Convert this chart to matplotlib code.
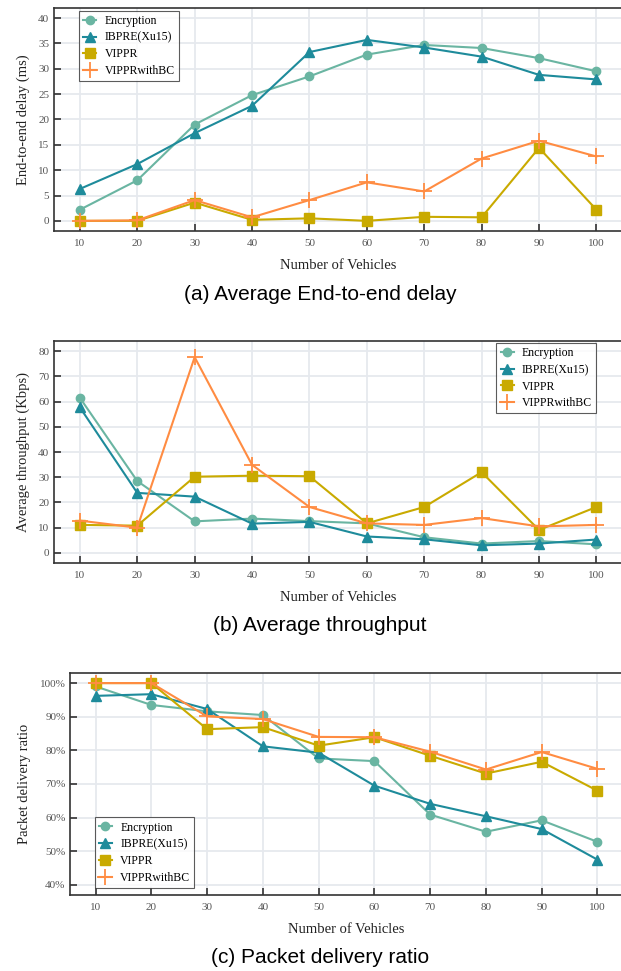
import matplotlib
matplotlib.use("Agg")
import matplotlib.pyplot as plt
from matplotlib.ticker import FuncFormatter

vehicles = [10, 20, 30, 40, 50, 60, 70, 80, 90, 100]
names = ["Encryption", "IBPRE(Xu15)", "VIPPR", "VIPPRwithBC"]

# (a) end-to-end delay, ms
delay_enc = [2.2, 8.0, 19.0, 24.8, 28.5, 32.8, 34.7, 34.1, 32.1, 29.5]
delay_ibpre = [6.3, 11.2, 17.3, 22.7, 33.3, 35.7, 34.2, 32.4, 28.8, 27.9]
delay_vippr = [0.0, 0.0, 3.6, 0.2, 0.5, 0.0, 0.8, 0.7, 14.4, 2.2]
delay_bc = [0.0, 0.1, 4.1, 0.7, 4.1, 7.6, 5.8, 12.3, 15.8, 12.7]

# (b) throughput, Kbps
thr_enc = [61.5, 28.5, 12.5, 13.6, 12.6, 11.7, 6.2, 3.7, 4.7, 3.4]
thr_ibpre = [57.7, 23.8, 22.3, 11.6, 12.3, 6.5, 5.4, 3.0, 3.7, 5.3]
thr_vippr = [11.1, 10.8, 30.2, 30.6, 30.4, 11.7, 18.2, 32.0, 9.1, 18.2]
thr_bc = [12.8, 10.0, 77.6, 34.9, 18.2, 11.7, 11.1, 13.8, 10.5, 11.1]

# (c) packet delivery ratio, %
pdr_enc = [99.0, 93.5, 91.6, 90.5, 77.6, 76.8, 60.9, 55.8, 59.2, 52.8]
pdr_ibpre = [96.2, 96.7, 92.3, 81.2, 79.3, 69.5, 64.1, 60.4, 56.6, 47.5]
pdr_vippr = [100.0, 100.0, 86.3, 86.9, 81.4, 83.9, 78.4, 73.1, 76.6, 68.0]
pdr_bc = [100.0, 100.0, 90.1, 89.3, 84.0, 83.9, 79.6, 74.3, 79.5, 74.5]

colors = ["#6ab5a2", "#1e8b9b", "#c9aa00", "#ff8c42"]
markers = ["o", "^", "s", "+"]
msizes = [6, 7, 7, 11]

plt.rcParams["font.family"] = ["Liberation Serif", "DejaVu Serif"]

fig = plt.figure(figsize=(6.21, 9.71), dpi=100)


def panel(rect, series, ylim, yticks, ylabel, legend_loc, legend_anchor, pct=False):
    ax = fig.add_axes(rect)
    for vals, name, c, m, ms in zip(series, names, colors, markers, msizes):
        ax.plot(vehicles, vals, color=c, marker=m, markersize=ms, lw=1.5,
                label=name, markeredgewidth=1.3 if m == "+" else 1.0)
    ax.set_xlim(5.5, 104.5)
    ax.set_ylim(*ylim)
    ax.set_xticks(vehicles)
    ax.set_yticks(yticks)
    if pct:
        ax.yaxis.set_major_formatter(FuncFormatter(lambda v, p: "%d%%" % v))
    ax.grid(True, color="#e6e9ee", lw=1.3)
    ax.set_axisbelow(True)
    ax.tick_params(direction="in", length=5, width=1.2, color="#333333",
                   labelcolor="#555555", labelsize=8)
    ax.tick_params(axis="x", pad=6)
    for s in ["left", "bottom", "top", "right"]:
        ax.spines[s].set_color("#333333")
        ax.spines[s].set_linewidth(1.2)
    ax.set_xlabel("Number of Vehicles", fontsize=10.5, color="#222222", labelpad=8)
    ax.set_ylabel(ylabel, fontsize=10.5, color="#222222", labelpad=6)
    leg = ax.legend(loc=legend_loc, bbox_to_anchor=legend_anchor, fontsize=8.5,
                    fancybox=False, borderaxespad=0, handlelength=1.1,
                    handletextpad=0.7, labelspacing=0.4, borderpad=0.35)
    leg.get_frame().set_edgecolor("#333333")
    leg.get_frame().set_linewidth(0.8)
    return ax


panel([0.087, 0.7621, 0.915, 0.2297], [delay_enc, delay_ibpre, delay_vippr, delay_bc],
      (-2, 42), range(0, 41, 5), "End-to-end delay (ms)", "upper left", (0.044, 0.987))
panel([0.087, 0.4202, 0.915, 0.2286], [thr_enc, thr_ibpre, thr_vippr, thr_bc],
      (-4, 84), range(0, 81, 10), "Average throughput (Kbps)", "upper right", (0.954, 0.991))
panel([0.1135, 0.0783, 0.889, 0.2286], [pdr_enc, pdr_ibpre, pdr_vippr, pdr_bc],
      (37, 103), range(40, 101, 10), "Packet delivery ratio", "lower left", (0.044, 0.032), pct=True)

cap = dict(fontsize=15, family=["Liberation Sans", "DejaVu Sans"], ha="center", va="center")
fig.text(0.515, 0.697, "(a) Average End-to-end delay", **cap)
fig.text(0.515, 0.356, "(b) Average throughput", **cap)
fig.text(0.515, 0.0144, "(c) Packet delivery ratio", **cap)

fig.savefig("out.png", dpi=100)
